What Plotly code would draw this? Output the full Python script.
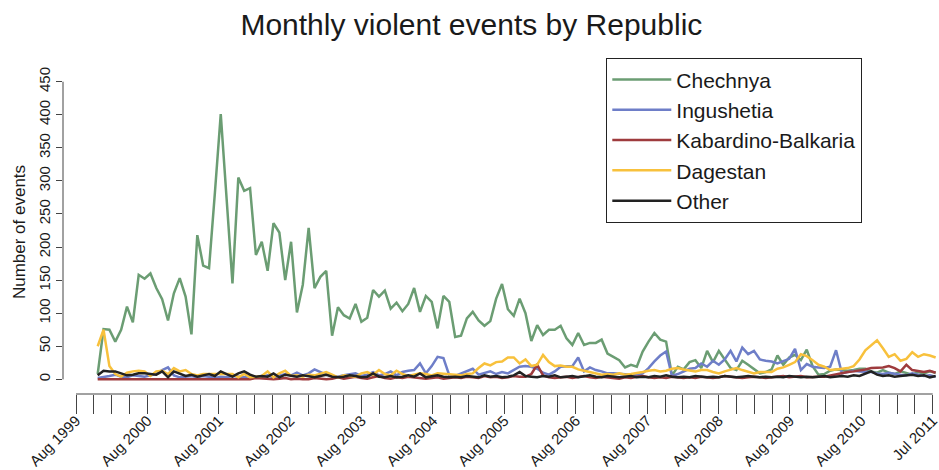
import numpy as np
import plotly.graph_objects as go

# ---- data: monthly counts of violent events per republic ----
series_names = ["Chechnya", "Ingushetia", "Kabardino-Balkaria", "Dagestan", "Other"]
series_colors = ["#6B9D73", "#6E7EC8", "#9E3B3D", "#F8C13C", "#222222"]

chechnya = [
    8, 76, 75, 57, 75, 110, 86, 158, 152, 160, 138, 121, 89, 130, 153, 125, 68, 218, 172, 168,
    282, 401, 273, 145, 305, 285, 289, 188, 208, 164, 236, 222, 150, 208, 101, 143, 229, 138, 155, 164,
    66, 109, 97, 92, 114, 87, 93, 135, 125, 134, 107, 116, 103, 114, 138, 102, 126, 117, 77, 126,
    117, 64, 66, 92, 102, 89, 81, 88, 122, 144, 106, 96, 122, 100, 58, 82, 67, 75, 75, 81,
    62, 52, 70, 52, 55, 55, 60, 39, 34, 29, 18, 22, 19, 42, 57, 70, 60, 57, 6, 19,
    15, 26, 29, 17, 43, 26, 43, 30, 17, 14, 28, 22, 15, 9, 11, 15, 36, 22, 33, 37,
    29, 45, 20, 7, 8, 13, 15, 14, 13, 14, 16, 16, 12, 10, 14, 10, 8, 12, 10, 7,
    11, 9, 12, 10,
]
ingushetia = [
    2, 3, 5, 7, 4, 3, 6, 5, 4, 6, 8, 14, 18, 6, 3, 4, 5, 3, 5, 4,
    2, 4, 3, 5, 4, 3, 5, 3, 4, 6, 3, 5, 8, 6, 10, 6, 9, 15, 11, 7,
    5, 4, 6, 8, 9, 5, 7, 11, 6, 8, 12, 6, 11, 13, 14, 24, 9, 20, 34, 32,
    6, 5, 9, 12, 16, 7, 9, 12, 8, 11, 9, 14, 19, 20, 19, 16, 10, 7, 12, 19,
    19, 20, 33, 12, 18, 14, 12, 9, 9, 8, 7, 7, 6, 9, 17, 27, 36, 42, 5, 8,
    12, 16, 17, 24, 19, 28, 22, 30, 43, 27, 48, 38, 43, 30, 28, 27, 24, 27, 31, 46,
    14, 23, 19, 18, 17, 19, 44, 9, 11, 13, 12, 12, 11, 9, 8, 10, 8, 7, 6, 9,
    7, 5, 6, 4,
]
kabardino_balkaria = [
    0, 0, 1, 0, 0, 1, 0, 0, 1, 0, 0, 1, 0, 0, 0, 1, 0, 0, 1, 0,
    0, 1, 0, 0, 1, 0, 0, 2, 1, 0, 0, 1, 2, 0, 1, 0, 0, 2, 1, 0,
    1, 3, 1, 2, 4, 2, 1, 3, 5, 2, 1, 3, 2, 4, 3, 2, 1, 2, 3, 1,
    2, 3, 2, 4, 3, 2, 5, 3, 4, 2, 3, 5, 4, 4, 8, 22, 6, 3, 2, 3,
    4, 2, 3, 5, 3, 2, 4, 3, 2, 1, 3, 2, 4, 5, 3, 2, 3, 2, 4, 3,
    2, 3, 2, 4, 3, 2, 3, 5, 4, 3, 2, 3, 4, 3, 2, 3, 4, 5, 3, 4,
    5, 3, 4, 4, 4, 6, 8, 10, 11, 12, 13, 15, 17, 17, 18, 20, 17, 12, 22, 14,
    12, 11, 13, 10,
]
dagestan = [
    50, 75, 20, 8, 4, 10, 12, 13, 12, 5, 12, 13, 8, 17, 12, 14, 8, 6, 8, 8,
    9, 9, 8, 8, 3, 8, 3, 4, 5, 12, 3, 9, 13, 5, 6, 4, 7, 6, 9, 11,
    7, 3, 6, 5, 4, 9, 11, 7, 14, 8, 6, 13, 8, 5, 7, 9, 8, 6, 9, 8,
    8, 6, 6, 8, 9, 17, 24, 21, 26, 27, 33, 33, 24, 30, 20, 22, 37, 26, 20, 21,
    19, 19, 15, 13, 11, 9, 7, 8, 7, 9, 7, 8, 9, 11, 13, 14, 12, 13, 16, 17,
    15, 14, 12, 14, 14, 11, 9, 12, 14, 17, 14, 12, 9, 11, 11, 11, 16, 18, 22, 26,
    38, 35, 29, 22, 19, 14, 15, 16, 17, 20, 30, 44, 52, 59, 47, 34, 38, 28, 31, 41,
    34, 38, 36, 33,
]
other = [
    6, 13, 12, 12, 9, 6, 7, 9, 9, 8, 7, 12, 3, 12, 8, 5, 7, 4, 6, 8,
    5, 12, 8, 4, 9, 12, 7, 4, 5, 4, 9, 3, 7, 5, 4, 6, 4, 3, 5, 7,
    4, 3, 4, 6, 5, 3, 4, 9, 4, 3, 5, 3, 4, 6, 4, 9, 3, 4, 6, 4,
    3, 4, 3, 5, 4, 3, 6, 4, 5, 3, 4, 6, 11, 5, 4, 3, 5, 4, 6, 3,
    4, 5, 3, 4, 6, 4, 3, 5, 4, 3, 4, 5, 3, 4, 3, 5, 4, 6, 4, 3,
    4, 3, 5, 4, 3, 4, 3, 5, 4, 3, 4, 5, 4, 3, 4, 3, 4, 3, 5, 4,
    3, 4, 3, 4, 5, 3, 4, 5, 4, 6, 5, 8, 12, 7, 5, 6, 4, 5, 6, 7,
    5, 6, 3, 5,
]
series_values = [chechnya, ingushetia, kabardino_balkaria, dagestan, other]

# ---- x axis: month index, ticks every quarter, labels every August ----
year_labels = ["Aug %d" % y for y in range(1999, 2011)]
end_label = "Jul 2011"
y_ticks = list(range(0, 451, 50))

n_months = len(chechnya)
month_idx = np.arange(n_months)

tick_first, tick_last, tick_count = -3.7, 142.5, 49
tick_pos = np.linspace(tick_first, tick_last, tick_count)
tick_text = [""] * tick_count
for k, lab in zip(range(0, tick_count, 4), year_labels):
    tick_text[k] = lab
tick_text[-1] = end_label

axis_color = "#444444"
text_color = "#1a1a1a"
font_family = "Liberation Sans, Arial, Helvetica, sans-serif"

fig = go.Figure()
for name, color, vals in zip(series_names, series_colors, series_values):
    fig.add_trace(go.Scatter(
        x=month_idx, y=vals, mode="lines", name=name,
        line=dict(color=color, width=2.5),
    ))

fig.update_layout(
    width=939, height=470,
    margin=dict(l=63, r=0, t=70, b=76, autoexpand=False),
    paper_bgcolor="white", plot_bgcolor="white",
    font=dict(family=font_family, color=text_color),
    title=dict(text="Monthly violent events by Republic", xref="container", x=0.502,
               y=1 - 24 / 470, yanchor="middle", xanchor="center",
               font=dict(size=30, color=text_color)),
    showlegend=True,
    legend=dict(x=(606 - 63) / 876, y=(394 - 58) / 324, xanchor="left", yanchor="top",
                bordercolor="#222222", borderwidth=1.3, bgcolor="white",
                font=dict(size=21, color=text_color), itemwidth=59, tracegroupgap=0),
    xaxis=dict(range=[-5.92, 143.57], tickmode="array", tickvals=tick_pos, ticktext=tick_text,
               ticks="outside", ticklen=19, tickwidth=1, tickcolor=axis_color, tickangle=-45,
               tickfont=dict(size=15, color=text_color), showgrid=False, zeroline=False,
               showline=False, automargin=False, ticklabelstandoff=-8,
               ticklabeloverflow="allow"),
    yaxis=dict(range=[-22.2, 467.7], tickmode="array", tickvals=y_ticks,
               ticks="outside", ticklen=6, tickwidth=1, tickcolor=axis_color, tickangle=-90,
               tickfont=dict(size=15, color=text_color), showgrid=False, zeroline=False,
               showline=False, automargin=False,
               title=dict(text="Number of events", font=dict(size=17, color=text_color), standoff=6)),
    shapes=[
        dict(type="line", xref="paper", yref="y", x0=0, x1=0, y0=y_ticks[0], y1=y_ticks[-1],
             line=dict(color=axis_color, width=1)),
        dict(type="line", xref="x", yref="paper", x0=tick_pos[0], x1=tick_pos[-1], y0=0, y1=0,
             line=dict(color=axis_color, width=1)),
    ],
)

fig.write_html("out.html")
